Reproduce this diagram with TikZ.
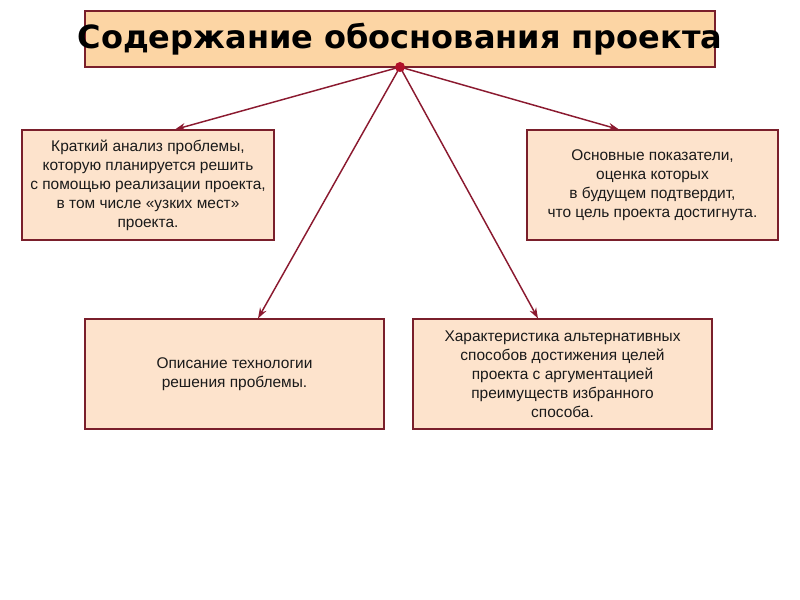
\documentclass[tikz,border=0pt]{standalone}
\usepackage{fontspec}
\setmainfont{DejaVu Sans}
\newfontfamily\bodyfont{Liberation Sans}
\usetikzlibrary{arrows.meta}
\definecolor{titlefill}{HTML}{FCD5A4}
\definecolor{boxfill}{HTML}{FDE3CC}
\definecolor{boxline}{HTML}{7A1F2B}
\definecolor{arrowcol}{HTML}{8B1A30}
\definecolor{dotcol}{HTML}{B0102A}
\definecolor{txt}{HTML}{1A1A1A}
\begin{document}
\begin{tikzpicture}[x=0.75pt,y=-0.75pt,
  titlebox/.style={draw=boxline,line width=0.8pt,fill=titlefill,minimum width=630*0.75pt,minimum height=56*0.75pt,inner sep=0pt},
  infobox/.style={draw=boxline,line width=0.8pt,fill=boxfill,align=center,text=txt,inner sep=0pt,
     font=\bodyfont\fontsize{11.6pt}{14.25pt}\selectfont},
  conn/.style={draw=arrowcol,line width=1.1pt,-{Stealth[length=8pt,width=5.5pt]}}
]
\useasboundingbox (0,0) rectangle (800,600);
\node[titlebox] (title) at (400,39) {};
\node[font=\fontsize{24pt}{26pt}\selectfont\bfseries,text=black] (tt) at (400,39) {Содержание обоснования проекта};
\node[infobox,minimum width=252*0.75pt,minimum height=110*0.75pt] (b1) at (148,185)
  {Краткий анализ проблемы,\\которую планируется решить\\с помощью реализации проекта,\\в том числе «узких мест»\\проекта.};
\node[infobox,minimum width=251*0.75pt,minimum height=110*0.75pt] (b2) at (652.5,185)
  {Основные показатели,\\оценка которых\\в будущем подтвердит,\\что цель проекта достигнута.};
\node[infobox,minimum width=299*0.75pt,minimum height=110*0.75pt] (b3) at (234.5,374)
  {Описание технологии\\решения проблемы.};
\node[infobox,minimum width=299*0.75pt,minimum height=110*0.75pt] (b4) at (562.5,374)
  {Характеристика альтернативных\\способов достижения целей\\проекта с аргументацией\\преимуществ избранного\\способа.};
\coordinate (hub) at (400,67);
\draw[conn] (hub) -- (b1.north -| 175,0);
\draw[conn] (hub) -- (b2.north -| 619,0);
\draw[conn] (hub) -- (b3.north -| 258,0);
\draw[conn] (hub) -- (b4.north -| 538,0);
\fill[dotcol] (hub) circle (5);
\end{tikzpicture}
\end{document}
